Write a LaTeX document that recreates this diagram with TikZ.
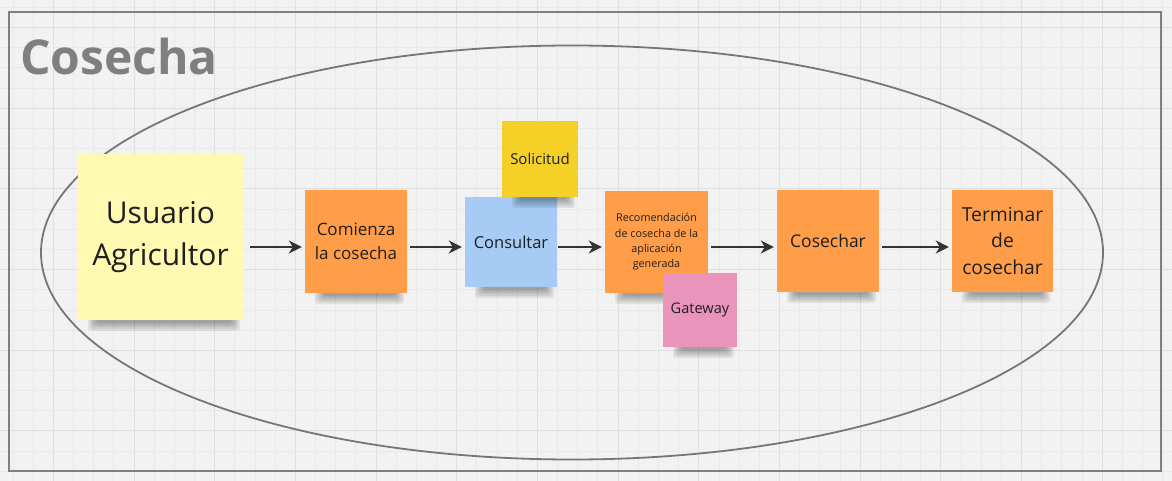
\documentclass[tikz,border=0pt]{standalone}
\usepackage{fontspec}
\setmainfont{Open Sans}
\usetikzlibrary{arrows.meta}
\definecolor{bgc}{HTML}{F2F2F2}
\definecolor{minorc}{HTML}{E9E9E9}
\definecolor{majorc}{HTML}{DFDFDF}
\definecolor{framec}{HTML}{808080}
\definecolor{ellc}{HTML}{767676}
\definecolor{orangec}{HTML}{FF9D48}
\definecolor{yellowl}{HTML}{FFF9B1}
\definecolor{yellowd}{HTML}{F5D128}
\definecolor{bluec}{HTML}{A6CCF5}
\definecolor{pinkc}{HTML}{EA94BB}
\definecolor{textc}{HTML}{1F1F1F}
\definecolor{arrc}{HTML}{333333}
\definecolor{titlec}{HTML}{7F7F7F}
\tikzset{
  note/.style={rectangle, draw=none, inner sep=0pt, align=center, text=textc},
  arr/.style={draw=arrc, line width=2.3pt, -{Stealth[length=13pt,width=13pt,inset=4pt]}, shorten <=3pt, shorten >=3pt},
  minorline/.style={draw=minorc, line width=0.9pt},
  majorline/.style={draw=majorc, line width=1pt},
}
% name, cx, cy, w, h, colour, font, text
\newcommand\sticky[8]{%
  \foreach \i in {0,...,4}{%
    \fill[black,opacity=0.075,rounded corners=3pt]
      ({#2-#4/2+10+2*\i},{#3+#5/2-4}) rectangle ({#2+#4/2-3-2*\i},{#3+#5/2+11-2*\i});
  }
  \node[note,fill=#6,minimum width=#4pt,minimum height=#5pt,font=#7] (#1) at (#2,#3) {#8};
}
\begin{document}
\begin{tikzpicture}[x=1pt,y=-1pt]
\useasboundingbox (0,0) rectangle (1172,481);
\fill[bgc] (0,0) rectangle (1172,481);
% grid
\foreach \i in {0,...,58}{
  \pgfmathsetmacro\gx{13+20.17*\i}
  \pgfmathtruncatemacro\m{mod(\i,4)}
  \ifnum\m=2 \draw[majorline] (\gx,0) -- (\gx,481); \else \draw[minorline] (\gx,0) -- (\gx,481); \fi
}
\foreach \i in {0,...,24}{
  \pgfmathsetmacro\gy{7.4+20.17*\i}
  \pgfmathtruncatemacro\m{mod(\i,4)}
  \ifnum\m=1 \draw[majorline] (0,\gy) -- (1172,\gy); \else \draw[minorline] (0,\gy) -- (1172,\gy); \fi
}
% frame and title
\draw[framec, line width=2pt] (9,12.3) rectangle (1160.5,471);
\node[anchor=base west, inner sep=0pt, text=titlec, font=\fontsize{48}{58}\selectfont\bfseries] (title) at (20,75) {Cosecha};
% ellipse
\draw[ellc, line width=1.8pt] (572,252.5) ellipse [x radius=531pt, y radius=207pt];
% notes
\sticky{user}{160.5}{237}{165}{166}{yellowl}{\fontsize{30}{42}\selectfont}{Usuario\\Agricultor}
\sticky{comienza}{356}{241.5}{102}{103}{orangec}{\fontsize{17}{24}\selectfont}{Comienza\\la cosecha}
\sticky{consultar}{511}{242}{92}{90}{bluec}{\fontsize{16.5}{20}\selectfont}{Consultar}
\sticky{solicitud}{540}{159}{76}{76}{yellowd}{\fontsize{15}{18}\selectfont}{Solicitud}
\sticky{recom}{656.5}{242}{103}{102}{orangec}{\fontsize{10.8}{15.3}\selectfont}{Recomendación\\de cosecha de la\\aplicación\\generada}
\sticky{gateway}{700}{310}{74}{74}{pinkc}{\fontsize{14.6}{18}\selectfont}{Gateway}
\sticky{cosechar}{828}{241}{102}{102}{orangec}{\fontsize{17.5}{21}\selectfont}{Cosechar}
\sticky{terminar}{1002.5}{241}{101}{102}{orangec}{\fontsize{19.3}{26.5}\selectfont}{Terminar\\de\\cosechar}
% arrows
\draw[arr, shorten <=7pt] ([yshift=-10pt]user.east) -- ([yshift=-5.5pt]comienza.west);
\draw[arr] ([yshift=-5.5pt]comienza.east) -- ([yshift=-5pt]consultar.west);
\draw[arr, shorten <=1pt] ([yshift=-5pt]consultar.east) -- ([yshift=-5pt]recom.west);
\draw[arr] ([yshift=-5pt]recom.east) -- ([yshift=-6pt]cosechar.west);
\draw[arr] ([yshift=-6pt]cosechar.east) -- ([yshift=-6pt]terminar.west);
\end{tikzpicture}
\end{document}
